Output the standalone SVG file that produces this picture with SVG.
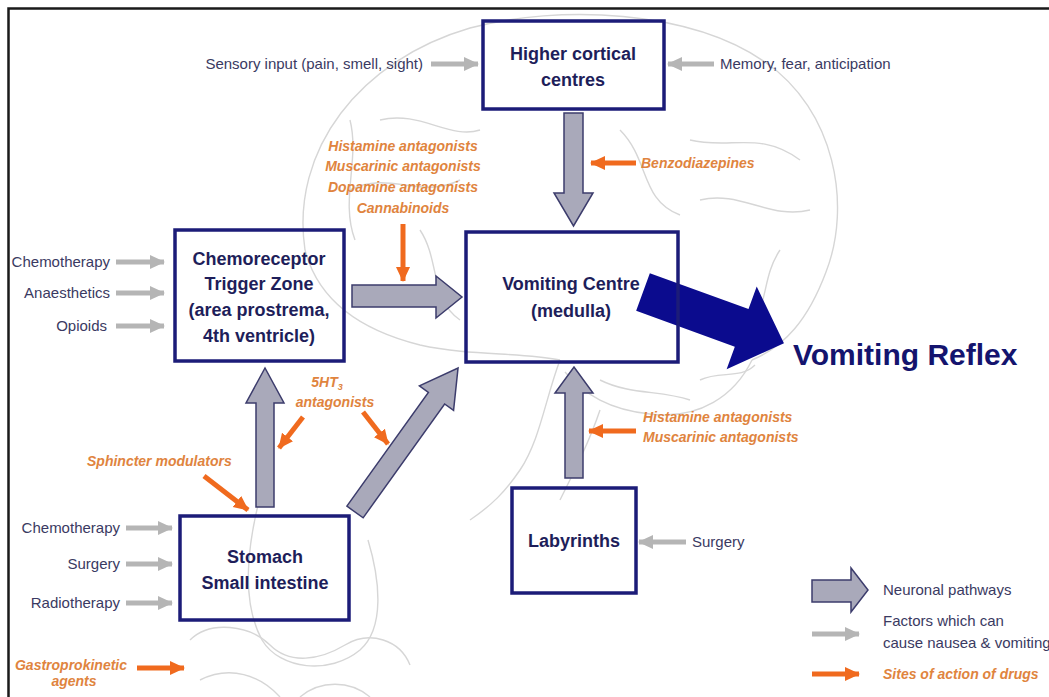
<svg xmlns="http://www.w3.org/2000/svg" width="1049" height="697" viewBox="0 0 1049 697">
  <defs>
    <marker id="headGrey" markerUnits="userSpaceOnUse" markerWidth="16" markerHeight="16" viewBox="0 0 16 16" refX="14" refY="8" orient="auto">
      <path d="M0,1 L15,8 L0,15 Z" fill="#b5b5b5"/>
    </marker>
    <marker id="headOrange" markerUnits="userSpaceOnUse" markerWidth="16" markerHeight="16" viewBox="0 0 16 16" refX="14" refY="8" orient="auto">
      <path d="M0,1 L15,8 L0,15 Z" fill="#f06a1e"/>
    </marker>
    <style>
      .box { fill: none; stroke: #1c1c78; stroke-width: 3.5; }
      .node { font-family: "Liberation Sans", Arial, sans-serif; font-weight: bold; font-size: 18px; fill: #1e1e5a; text-anchor: middle; }
      .cause { font-family: "Liberation Sans", Arial, sans-serif; font-size: 15px; fill: #3a3a62; }
      .drug { font-family: "Liberation Sans", Arial, sans-serif; font-weight: bold; font-style: italic; font-size: 14px; fill: #e0843e; }
      .grey { stroke: #b5b5b5; stroke-width: 5; fill: none; marker-end: url(#headGrey); }
      .orange { stroke: #f06a1e; stroke-width: 5; fill: none; marker-end: url(#headOrange); }
      .neural { fill: #a9a9ba; stroke: #3c3c6c; stroke-width: 1.5; stroke-linejoin: miter; }
      .sketch { fill: none; stroke: #d6d6d6; stroke-width: 1.4; }
    </style>
  </defs>

  <rect width="1049" height="697" fill="#ffffff"/>

  <!-- faint anatomical sketch behind the chart -->
  <g id="background">
    <path class="sketch" d="M305,250 C290,150 360,60 470,28 C560,4 690,10 765,62 C835,110 852,205 826,272 C808,320 785,346 752,360"/>
    <path class="sketch" d="M305,250 C318,300 360,330 420,345 C470,356 520,352 560,360"/>
    <path class="sketch" d="M752,360 C735,395 700,420 650,414 C610,410 585,395 565,372"/>
    <path class="sketch" d="M560,360 C545,400 540,440 520,470 C505,492 492,505 470,520"/>
    <path class="sketch" d="M600,410 C590,440 575,470 560,500"/>
    <path class="sketch" d="M380,120 C420,110 450,140 480,130 M350,190 C390,170 420,200 460,180 M690,140 C730,150 760,130 800,160 M700,200 C740,190 770,220 810,210"/>
    <path class="sketch" d="M620,130 C650,160 640,200 680,215 M420,230 C440,260 430,300 460,320 M700,380 C720,370 740,380 755,365 M600,380 C630,395 660,390 690,400"/>
    <path class="sketch" d="M350,120 C360,160 340,200 355,240 M780,250 C760,280 770,310 745,330"/>
    <path class="sketch" d="M262,490 C248,540 240,600 262,640 C280,670 330,675 360,650 C385,628 380,580 368,540"/>
    <path class="sketch" d="M190,640 C210,620 250,625 270,645 C290,665 320,660 345,645 C370,630 400,640 410,665 M200,680 C230,665 260,675 280,697 M300,697 C320,680 350,680 370,697"/>
  </g>

  <!-- page frame -->
  <path d="M8.5,697 L8.5,8.5 L1049,8.5" fill="none" stroke="#1a1a1a" stroke-width="2.5"/>

  <g id="connectors">
    <!-- neuronal pathways -->
    <polygon class="neural" points="564,113 583,113 583,193 593,193 573.5,226 554,193 564,193"/>
    <polygon class="neural" points="352,285 436,285 436,276 462,297 436,318 436,307 352,307"/>
    <polygon class="neural" points="256,507 274,507 274,403 284,403 265,368 246,403 256,403"/>
    <polygon class="neural" points="565,478 583,478 583,393 593,393 574,367 555,393 565,393"/>
    <polygon class="neural" transform="translate(355,512) rotate(-54.4)" points="0,-10 140,-10 140,-21 177,0 140,21 140,10 0,10"/>
    <!-- output to the reflex -->
    <polygon transform="translate(643,292) rotate(20)" points="0,-20 105,-20 105,-44 150,0 105,44 105,20 0,20" fill="#0b0b8e"/>

    <!-- factors causing nausea -->
    <line class="grey" x1="431" y1="64" x2="478" y2="64"/>
    <line class="grey" x1="714" y1="64" x2="668" y2="64"/>
    <line class="grey" x1="116" y1="262" x2="164" y2="262"/>
    <line class="grey" x1="116" y1="293" x2="164" y2="293"/>
    <line class="grey" x1="116" y1="326" x2="164" y2="326"/>
    <line class="grey" x1="126" y1="528" x2="172" y2="528"/>
    <line class="grey" x1="126" y1="564" x2="172" y2="564"/>
    <line class="grey" x1="126" y1="603" x2="172" y2="603"/>
    <line class="grey" x1="686" y1="542" x2="639" y2="542"/>

    <!-- drug action sites -->
    <line class="orange" x1="636" y1="163" x2="591" y2="163"/>
    <line class="orange" x1="403" y1="224" x2="403" y2="281"/>
    <line class="orange" x1="204" y1="476" x2="248" y2="510"/>
    <line class="orange" x1="303" y1="417" x2="279" y2="448"/>
    <line class="orange" x1="363" y1="412" x2="388" y2="444"/>
    <line class="orange" x1="636" y1="431" x2="589" y2="431"/>
    <line class="orange" x1="137" y1="668" x2="184" y2="668"/>
  </g>

  <g id="higher-cortical">
    <rect class="box" x="483" y="21" width="181" height="88"/>
    <text class="node" x="573" y="60">Higher cortical</text>
    <text class="node" x="573" y="86">centres</text>
  </g>

  <g id="vomiting-centre">
    <rect class="box" x="466" y="232" width="212" height="130"/>
    <text class="node" x="571" y="290">Vomiting Centre</text>
    <text class="node" x="571" y="317">(medulla)</text>
  </g>

  <g id="ctz">
    <rect class="box" x="175" y="230" width="169" height="131"/>
    <text class="node" x="259" y="265">Chemoreceptor</text>
    <text class="node" x="259" y="290">Trigger Zone</text>
    <text class="node" x="259" y="316">(area prostrema,</text>
    <text class="node" x="259" y="342">4th ventricle)</text>
  </g>

  <g id="stomach">
    <rect class="box" x="180" y="516" width="169" height="104"/>
    <text class="node" x="265" y="563">Stomach</text>
    <text class="node" x="265" y="589">Small intestine</text>
  </g>

  <g id="labyrinths">
    <rect class="box" x="512" y="488" width="124" height="105"/>
    <text class="node" x="574" y="547">Labyrinths</text>
  </g>

  <g id="reflex">
    <text x="793" y="365" font-family="Liberation Sans, Arial, sans-serif" font-weight="bold" font-size="30" fill="#14146e">Vomiting Reflex</text>
  </g>

  <g id="causes">
    <text class="cause" x="423" y="69" text-anchor="end">Sensory input (pain, smell, sight)</text>
    <text class="cause" x="720" y="69">Memory, fear, anticipation</text>
    <text class="cause" x="110" y="267" text-anchor="end">Chemotherapy</text>
    <text class="cause" x="110" y="298" text-anchor="end">Anaesthetics</text>
    <text class="cause" x="107" y="331" text-anchor="end">Opioids</text>
    <text class="cause" x="120" y="533" text-anchor="end">Chemotherapy</text>
    <text class="cause" x="120" y="569" text-anchor="end">Surgery</text>
    <text class="cause" x="120" y="608" text-anchor="end">Radiotherapy</text>
    <text class="cause" x="692" y="547">Surgery</text>
  </g>

  <g id="drugs">
    <text class="drug" x="641" y="168">Benzodiazepines</text>
    <text class="drug" x="403" y="151" text-anchor="middle">Histamine antagonists</text>
    <text class="drug" x="403" y="171" text-anchor="middle">Muscarinic antagonists</text>
    <text class="drug" x="403" y="192" text-anchor="middle">Dopamine antagonists</text>
    <text class="drug" x="403" y="213" text-anchor="middle">Cannabinoids</text>
    <text class="drug" x="327" y="387" text-anchor="middle">5HT<tspan font-size="9" dy="3">3</tspan></text>
    <text class="drug" x="335" y="407" text-anchor="middle">antagonists</text>
    <text class="drug" x="87" y="466">Sphincter modulators</text>
    <text class="drug" x="643" y="422">Histamine antagonists</text>
    <text class="drug" x="643" y="442">Muscarinic antagonists</text>
    <text class="drug" x="71" y="670" text-anchor="middle">Gastroprokinetic</text>
    <text class="drug" x="74" y="686" text-anchor="middle">agents</text>
  </g>

  <g id="legend">
    <polygon class="neural" points="812,580 851,580 851,568 868,590 851,612 851,602 812,602"/>
    <text class="cause" x="883" y="595" font-size="14">Neuronal pathways</text>
    <line class="grey" x1="812" y1="634" x2="859" y2="634"/>
    <text class="cause" x="883" y="626" font-size="14">Factors which can</text>
    <text class="cause" x="883" y="648" font-size="14">cause nausea &amp; vomiting</text>
    <line class="orange" x1="812" y1="674" x2="859" y2="674"/>
    <text class="drug" x="883" y="679">Sites of action of drugs</text>
  </g>
</svg>
